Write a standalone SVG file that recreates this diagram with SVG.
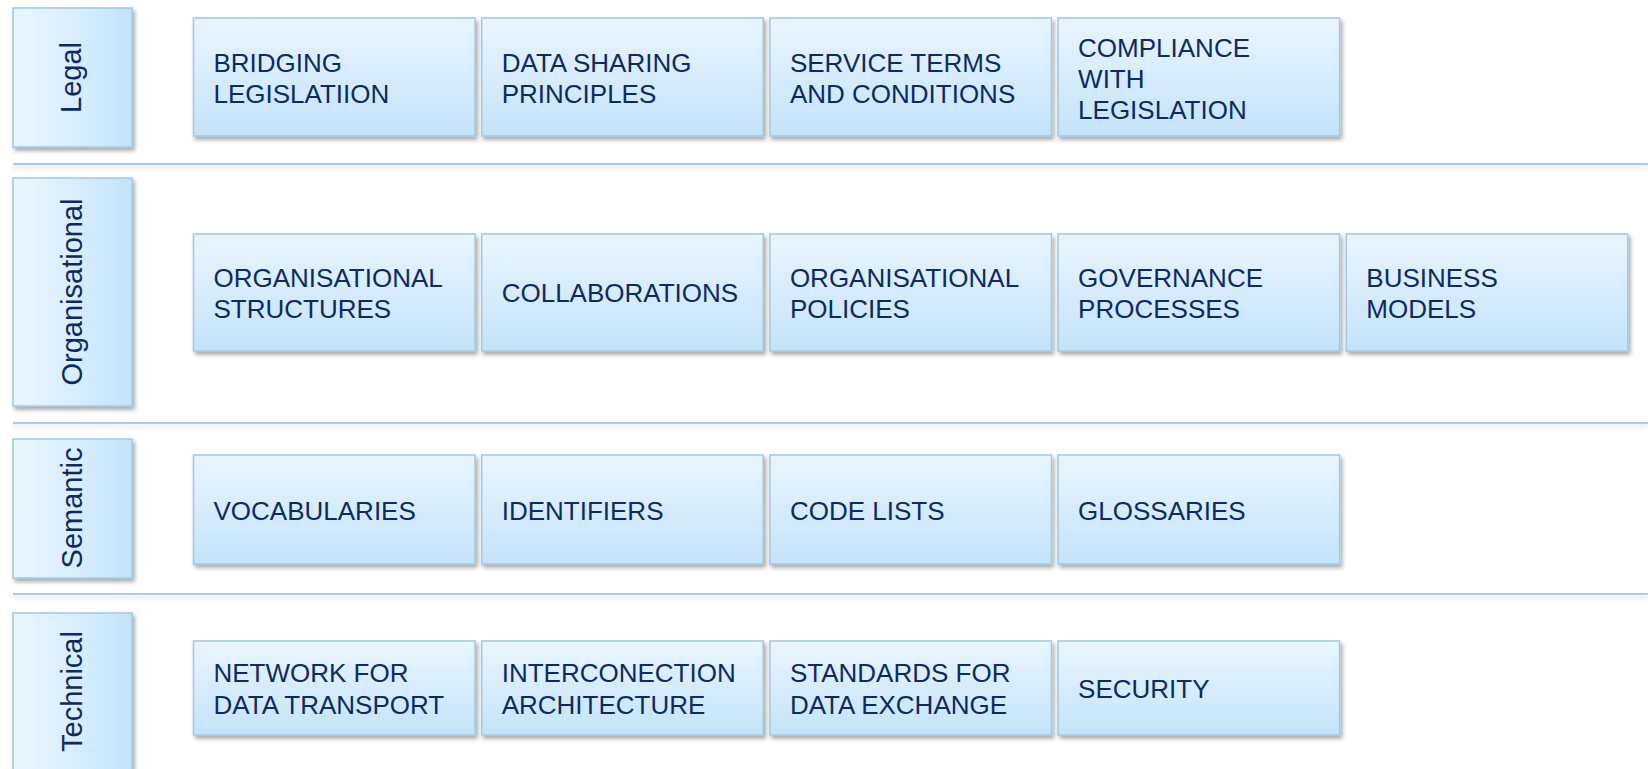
<svg xmlns="http://www.w3.org/2000/svg" width="1648" height="769" viewBox="0 0 1648 769">
<defs>
<linearGradient id="gNode" x1="0" y1="0" x2="0" y2="1">
<stop offset="0" stop-color="#eaf5fd"/>
<stop offset="1" stop-color="#c3e3fa"/>
</linearGradient>
<linearGradient id="gLabel" x1="0" y1="0" x2="1" y2="0">
<stop offset="0" stop-color="#eaf6fe"/>
<stop offset="0.55" stop-color="#d7edfc"/>
<stop offset="1" stop-color="#c2e3fa"/>
</linearGradient>
<filter id="sh" x="-10%" y="-10%" width="125%" height="130%">
<feDropShadow dx="2" dy="3" stdDeviation="2" flood-color="#000" flood-opacity="0.35"/>
</filter>
<filter id="shl" filterUnits="userSpaceOnUse" x="0" y="0" width="1648" height="769">
<feDropShadow dx="0" dy="3" stdDeviation="2" flood-color="#000" flood-opacity="0.15"/>
</filter>
</defs>
<style>
.node rect{fill:url(#gNode);stroke:#a3c7e4;stroke-width:1.5;filter:url(#sh)}
.lab rect{fill:url(#gLabel);stroke:#a3c7e4;stroke-width:1.5;filter:url(#sh)}
.node text{font-family:"Liberation Sans",Arial,sans-serif;font-size:26px;fill:#0e2a62}
.lab text{font-family:"Liberation Sans",Arial,sans-serif;font-size:29px;fill:#0e2a62;text-anchor:middle}
.sep rect{fill:#a8cbe8;filter:url(#shl)}
</style>
<rect width="1648" height="769" fill="#ffffff"/>
<g id="separators" class="sep">
<rect x="13" y="163" width="1635" height="2"/>
<rect x="13" y="422" width="1635" height="2"/>
<rect x="13" y="593" width="1635" height="2"/>
</g>
<g id="label-legal" class="lab"><rect x="13" y="8" width="119" height="139"/><text x="71" y="87.7" transform="rotate(-90 71 77.5)">Legal</text></g>
<g id="label-organisational" class="lab"><rect x="13" y="178" width="119" height="228"/><text x="71" y="302.5" transform="rotate(-90 71 292)">Organisational</text></g>
<g id="label-semantic" class="lab"><rect x="13" y="439" width="119" height="139"/><text x="71" y="518.5" transform="rotate(-90 71 508)">Semantic</text></g>
<g id="label-technical" class="lab"><rect x="13" y="613" width="119" height="160"/><text x="71" y="702" transform="rotate(-90 71 691.5)">Technical</text></g>

<g id="n-bridging" class="node"><rect x="193.5" y="18" width="281.5" height="118"/><text><tspan x="213.5" y="71.5">BRIDGING</tspan><tspan x="213.5" y="102.5">LEGISLATIION</tspan></text></g>
<g id="n-datasharing" class="node"><rect x="481.7" y="18" width="281.5" height="118"/><text><tspan x="501.7" y="71.5">DATA SHARING</tspan><tspan x="501.7" y="102.5">PRINCIPLES</tspan></text></g>
<g id="n-serviceterms" class="node"><rect x="769.9" y="18" width="281.5" height="118"/><text><tspan x="789.9" y="71.5">SERVICE TERMS</tspan><tspan x="789.9" y="102.5">AND CONDITIONS</tspan></text></g>
<g id="n-compliance" class="node"><rect x="1058.1" y="18" width="281.5" height="118"/><text><tspan x="1078.1" y="56.5">COMPLIANCE</tspan><tspan x="1078.1" y="87.5">WITH</tspan><tspan x="1078.1" y="118.5">LEGISLATION</tspan></text></g>

<g id="n-orgstructures" class="node"><rect x="193.5" y="234" width="281.5" height="117"/><text><tspan x="213.5" y="286.5">ORGANISATIONAL</tspan><tspan x="213.5" y="317.5">STRUCTURES</tspan></text></g>
<g id="n-collaborations" class="node"><rect x="481.7" y="234" width="281.5" height="117"/><text x="501.7" y="302">COLLABORATIONS</text></g>
<g id="n-orgpolicies" class="node"><rect x="769.9" y="234" width="281.5" height="117"/><text><tspan x="789.9" y="286.5">ORGANISATIONAL</tspan><tspan x="789.9" y="317.5">POLICIES</tspan></text></g>
<g id="n-governance" class="node"><rect x="1058.1" y="234" width="281.5" height="117"/><text><tspan x="1078.1" y="286.5">GOVERNANCE</tspan><tspan x="1078.1" y="317.5">PROCESSES</tspan></text></g>
<g id="n-business" class="node"><rect x="1346.3" y="234" width="281.5" height="117"/><text><tspan x="1366.3" y="286.5">BUSINESS</tspan><tspan x="1366.3" y="317.5">MODELS</tspan></text></g>

<g id="n-vocabularies" class="node"><rect x="193.5" y="455" width="281.5" height="109"/><text x="213.5" y="519.5">VOCABULARIES</text></g>
<g id="n-identifiers" class="node"><rect x="481.7" y="455" width="281.5" height="109"/><text x="501.7" y="519.5">IDENTIFIERS</text></g>
<g id="n-codelists" class="node"><rect x="769.9" y="455" width="281.5" height="109"/><text x="789.9" y="519.5">CODE LISTS</text></g>
<g id="n-glossaries" class="node"><rect x="1058.1" y="455" width="281.5" height="109"/><text x="1078.1" y="519.5">GLOSSARIES</text></g>

<g id="n-network" class="node"><rect x="193.5" y="641" width="281.5" height="94"/><text><tspan x="213.5" y="681.5">NETWORK FOR</tspan><tspan x="213.5" y="713.5">DATA TRANSPORT</tspan></text></g>
<g id="n-interconection" class="node"><rect x="481.7" y="641" width="281.5" height="94"/><text><tspan x="501.7" y="681.5">INTERCONECTION</tspan><tspan x="501.7" y="713.5">ARCHITECTURE</tspan></text></g>
<g id="n-standards" class="node"><rect x="769.9" y="641" width="281.5" height="94"/><text><tspan x="789.9" y="681.5">STANDARDS FOR</tspan><tspan x="789.9" y="713.5">DATA EXCHANGE</tspan></text></g>
<g id="n-security" class="node"><rect x="1058.1" y="641" width="281.5" height="94"/><text x="1078.1" y="697.5">SECURITY</text></g>
</svg>
